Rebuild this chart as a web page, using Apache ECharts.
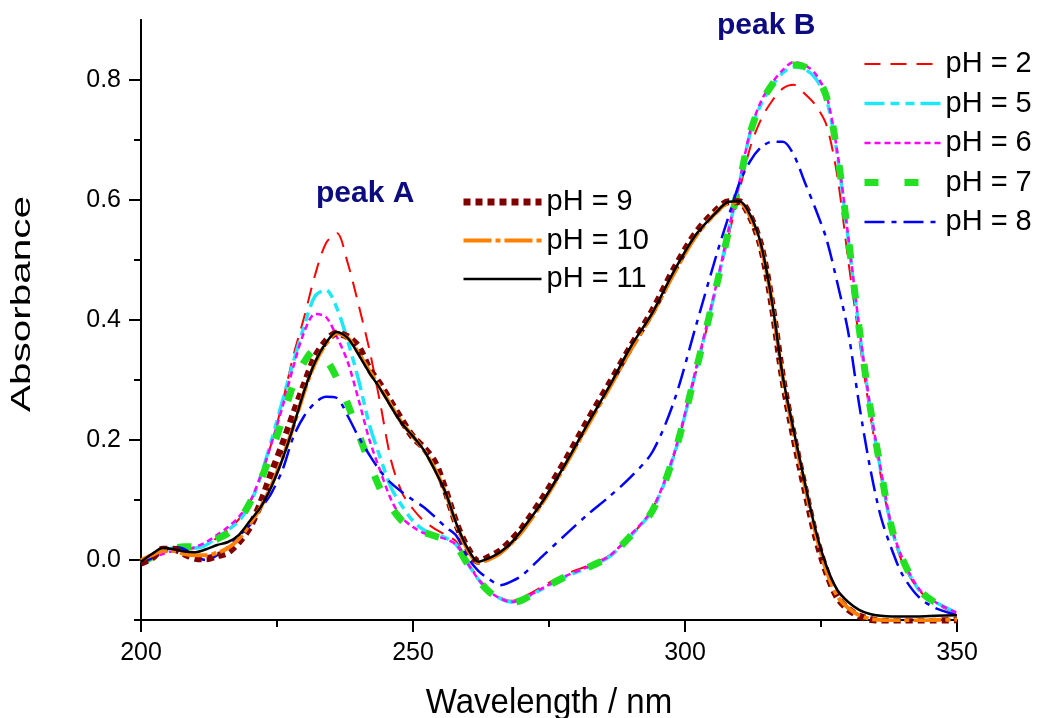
<!DOCTYPE html>
<html>
<head>
<meta charset="utf-8">
<script src="https://cdn.jsdelivr.net/npm/echarts@6/dist/echarts.min.js"></script>
<style>
html,body{margin:0;padding:0;background:#fff;}
#chart{width:1044px;height:718px;}
</style>
</head>
<body>
<div id="chart"></div>
<script>
var wavelengths = [200,202,204,206,208,210,212,214,216,218,220,222,224,226,228,230,232,234,236,238,240,242,244,246,248,250,252,254,256,258,260,262,264,266,268,270,274,278,282,286,290,294,298,302,306,308,310,312,314,316,318,320,322,324,326,328,330,332,334,336,338,340,343,346,350];

var pH2 = [0.000,0.008,0.018,0.020,0.018,0.020,0.025,0.037,0.050,0.068,0.095,0.140,0.195,0.262,0.340,0.405,0.475,0.528,0.545,0.495,0.425,0.350,0.260,0.165,0.112,0.085,0.065,0.052,0.042,0.030,-0.003,-0.030,-0.050,-0.062,-0.068,-0.063,-0.043,-0.024,-0.010,0.007,0.040,0.085,0.175,0.312,0.462,0.540,0.615,0.688,0.735,0.765,0.786,0.792,0.777,0.758,0.725,0.640,0.500,0.370,0.245,0.140,0.050,-0.005,-0.050,-0.072,-0.090];
var pH5 = [-0.003,0.008,0.015,0.020,0.020,0.020,0.025,0.038,0.050,0.065,0.092,0.140,0.200,0.265,0.330,0.390,0.440,0.450,0.420,0.365,0.300,0.225,0.170,0.120,0.090,0.065,0.050,0.042,0.037,0.025,-0.005,-0.032,-0.052,-0.064,-0.070,-0.066,-0.047,-0.028,-0.013,0.005,0.040,0.083,0.175,0.315,0.465,0.548,0.628,0.712,0.760,0.790,0.812,0.822,0.818,0.803,0.768,0.675,0.535,0.385,0.255,0.148,0.052,0.000,-0.050,-0.070,-0.088];
var pH6 = [-0.005,0.003,0.010,0.015,0.017,0.022,0.030,0.042,0.055,0.072,0.097,0.140,0.195,0.255,0.322,0.380,0.410,0.405,0.372,0.330,0.267,0.200,0.148,0.100,0.070,0.055,0.045,0.040,0.035,0.025,-0.005,-0.032,-0.052,-0.064,-0.070,-0.066,-0.046,-0.027,-0.012,0.006,0.042,0.085,0.178,0.318,0.468,0.550,0.630,0.715,0.765,0.795,0.817,0.830,0.825,0.810,0.775,0.680,0.540,0.390,0.258,0.150,0.055,0.002,-0.048,-0.070,-0.088];
var pH7 = [-0.005,0.005,0.015,0.020,0.022,0.022,0.027,0.035,0.045,0.065,0.095,0.133,0.180,0.235,0.293,0.330,0.350,0.335,0.303,0.260,0.210,0.162,0.118,0.088,0.065,0.052,0.046,0.040,0.034,0.022,-0.006,-0.033,-0.053,-0.065,-0.071,-0.067,-0.047,-0.028,-0.013,0.005,0.040,0.082,0.175,0.315,0.465,0.548,0.628,0.712,0.762,0.792,0.815,0.825,0.822,0.808,0.772,0.678,0.538,0.388,0.257,0.150,0.053,0.001,-0.049,-0.071,-0.089];
var pH8 = [-0.005,0.003,0.015,0.022,0.018,0.006,0.000,0.008,0.022,0.040,0.058,0.085,0.112,0.150,0.205,0.240,0.262,0.272,0.270,0.240,0.205,0.175,0.148,0.128,0.113,0.100,0.088,0.072,0.055,0.040,0.005,-0.018,-0.032,-0.042,-0.036,-0.026,0.008,0.042,0.075,0.105,0.138,0.180,0.265,0.390,0.515,0.572,0.628,0.665,0.688,0.697,0.697,0.675,0.630,0.585,0.535,0.462,0.380,0.260,0.155,0.072,0.018,-0.025,-0.062,-0.080,-0.092];
var pH9 = [-0.005,0.003,0.018,0.018,0.010,0.003,0.002,0.007,0.013,0.030,0.055,0.095,0.145,0.192,0.243,0.292,0.338,0.365,0.378,0.372,0.355,0.318,0.292,0.262,0.232,0.205,0.187,0.163,0.115,0.060,0.020,-0.002,0.005,0.015,0.032,0.052,0.105,0.165,0.230,0.292,0.355,0.415,0.485,0.545,0.585,0.597,0.597,0.572,0.522,0.425,0.300,0.205,0.120,0.040,-0.020,-0.062,-0.082,-0.093,-0.099,-0.102,-0.103,-0.103,-0.103,-0.102,-0.100];
var pH10 = [0.000,0.008,0.015,0.015,0.010,0.008,0.008,0.012,0.020,0.035,0.060,0.088,0.125,0.170,0.222,0.280,0.328,0.360,0.378,0.370,0.345,0.315,0.287,0.257,0.228,0.206,0.183,0.152,0.112,0.058,0.018,-0.004,0.001,0.011,0.027,0.047,0.098,0.158,0.222,0.285,0.350,0.410,0.478,0.540,0.582,0.595,0.596,0.572,0.522,0.428,0.302,0.210,0.125,0.045,-0.018,-0.060,-0.080,-0.092,-0.098,-0.100,-0.101,-0.101,-0.101,-0.100,-0.099];
var pH11 = [-0.003,0.010,0.020,0.018,0.014,0.013,0.018,0.025,0.030,0.042,0.065,0.088,0.123,0.168,0.222,0.282,0.330,0.362,0.380,0.370,0.342,0.312,0.285,0.255,0.227,0.206,0.183,0.150,0.112,0.060,0.020,-0.003,0.003,0.013,0.028,0.050,0.100,0.160,0.225,0.288,0.355,0.412,0.482,0.542,0.582,0.597,0.598,0.575,0.525,0.430,0.305,0.215,0.130,0.050,-0.010,-0.050,-0.070,-0.083,-0.090,-0.093,-0.094,-0.094,-0.094,-0.093,-0.092];

var yLabelValues = [0, 0.2, 0.4, 0.6, 0.8];
var yMinorValues = [-0.1, 0.1, 0.3, 0.5, 0.7];
var xLabelValues = [200, 250, 300, 350];

function pairs(ys) { return wavelengths.map(function (w, i) { return [w, ys[i]]; }); }

var FONT = 'Liberation Sans, Arial, sans-serif';

var seriesDefs = [
  { name: 'pH = 2', data: pH2, color: '#ff0000', width: 2, type: [16, 10] },
  { name: 'pH = 5', data: pH5, color: '#1ee8f5', width: 3.5, type: [20, 6, 9, 6, 9, 6] },
  { name: 'pH = 6', data: pH6, color: '#ff00ff', width: 2.5, type: [6, 4] },
  { name: 'pH = 7', data: pH7, color: '#22e022', width: 7, type: [14, 26] },
  { name: 'pH = 8', data: pH8, color: '#0000ff', width: 2.5, type: [20, 7, 5, 7] },
  { name: 'pH = 9', data: pH9, color: '#800000', width: 7, type: [7, 5] },
  { name: 'pH = 10', data: pH10, color: '#ff8000', width: 4, type: [28, 4, 5, 4] },
  { name: 'pH = 11', data: pH11, color: '#000000', width: 2.5, type: 'solid' }
];

var series = seriesDefs.map(function (d) {
  return {
    name: d.name,
    type: 'line',
    data: pairs(d.data),
    smooth: 0.3,
    symbol: 'none',
    showSymbol: false,
    color: d.color,
    lineStyle: { color: d.color, width: d.width, type: d.type },
    emphasis: { disabled: true },
    yAxisIndex: 0
  };
});

var legendCommon = {
  orient: 'vertical',
  itemHeight: 14,
  padding: 0,
  selectedMode: false,
  itemStyle: { color: 'rgba(0,0,0,0)', borderColor: 'rgba(0,0,0,0)', borderWidth: 0, opacity: 0 },
  lineStyle: { width: 'inherit', type: 'inherit', color: 'inherit' },
  textStyle: { fontSize: 29, fontFamily: FONT, color: '#000', lineHeight: 30 }
};

var chart = echarts.init(document.getElementById('chart'), null, { renderer: 'canvas' });
chart.setOption({
  animation: false,
  backgroundColor: '#ffffff',
  grid: { left: 141, right: 87, top: 20, bottom: 98, containLabel: false },
  legend: [
    Object.assign({}, legendCommon, {
      data: ['pH = 2', 'pH = 5', 'pH = 6', 'pH = 7', 'pH = 8'],
      left: 861, top: 49, itemWidth: 76, itemGap: 9.5
    }),
    Object.assign({}, legendCommon, {
      data: ['pH = 9', 'pH = 10', 'pH = 11'],
      left: 460, top: 187, itemWidth: 78, itemGap: 8.5
    })
  ],
  xAxis: {
    type: 'value', min: 200, max: 350, interval: 50,
    axisLine: { show: true, onZero: false, lineStyle: { color: '#000', width: 2 } },
    axisTick: { show: true, length: 12, lineStyle: { color: '#000', width: 2 } },
    minorTick: { show: true, splitNumber: 2, length: 7, lineStyle: { color: '#000', width: 2 } },
    splitLine: { show: false },
    minorSplitLine: { show: false },
    axisLabel: { fontSize: 25, fontFamily: FONT, color: '#000', margin: 21, customValues: xLabelValues }
  },
  yAxis: [
    {
      type: 'value', min: -0.1, max: 0.9, interval: 0.1,
      axisLine: { show: true, onZero: false, lineStyle: { color: '#000', width: 2 } },
      axisTick: { show: true, length: 12, lineStyle: { color: '#000', width: 2 }, customValues: yLabelValues },
      splitLine: { show: false },
      axisLabel: {
        fontSize: 25, fontFamily: FONT, color: '#000', margin: 20,
        customValues: yLabelValues,
        formatter: function (v) { return v.toFixed(1); }
      }
    },
    {
      type: 'value', min: -0.1, max: 0.9, interval: 0.1, position: 'left',
      axisLine: { show: true, onZero: false, lineStyle: { color: '#000', width: 2 } },
      axisTick: { show: true, length: 7, lineStyle: { color: '#000', width: 2 }, customValues: yMinorValues },
      splitLine: { show: false },
      axisLabel: { show: false }
    }
  ],
  graphic: [
    {
      type: 'text', x: 23, y: 304, rotation: Math.PI / 2, scaleX: 1.5,
      style: { text: 'Absorbance', fontSize: 27, fontFamily: FONT, fill: '#000', align: 'center', verticalAlign: 'middle' }
    },
    {
      type: 'text', x: 549, y: 703, scaleY: 1.05,
      style: { text: 'Wavelength / nm', fontSize: 33, fontFamily: FONT, fill: '#000', align: 'center', verticalAlign: 'middle' }
    },
    {
      type: 'text', x: 316, y: 194,
      style: { text: 'peak A', fontSize: 30, fontWeight: 'bold', fontFamily: FONT, fill: '#0c0c80', align: 'left', verticalAlign: 'middle' }
    },
    {
      type: 'text', x: 717, y: 26,
      style: { text: 'peak B', fontSize: 30, fontWeight: 'bold', fontFamily: FONT, fill: '#0c0c80', align: 'left', verticalAlign: 'middle' }
    }
  ],
  series: series
});
</script>
</body>
</html>
